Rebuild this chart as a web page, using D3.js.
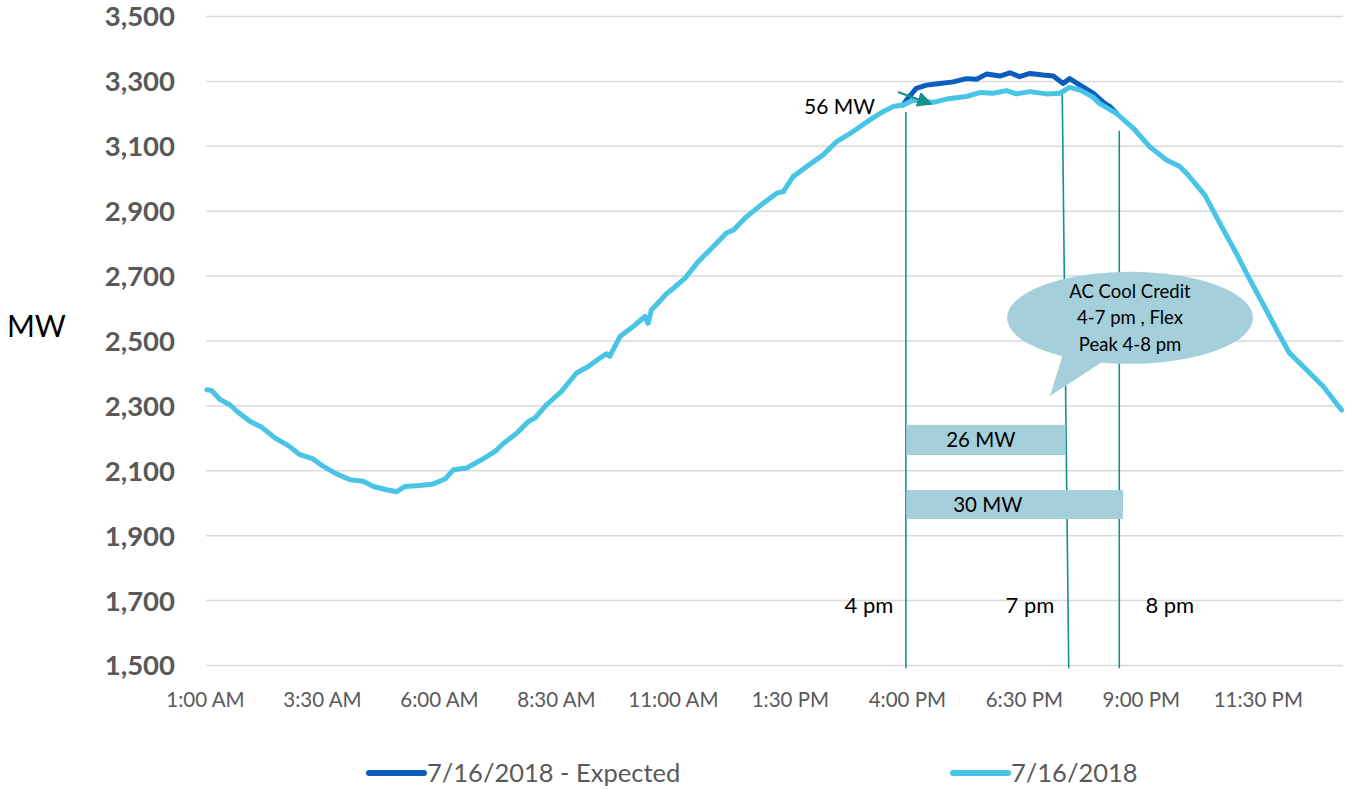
<!DOCTYPE html>
<html>
<head>
<meta charset="utf-8">
<script src="https://cdn.jsdelivr.net/npm/d3@7"></script>
<style>
  body { margin: 0; background: #fff; }
  svg { font-family: Lato, "Open Sans", sans-serif; }
</style>
</head>
<body>
<div id="chart"></div>
<script>
// hours since midnight (1 = 1:00 AM, 25 = 1:00 AM next day)
const actualHours = [1.04, 1.14, 1.32, 1.53, 1.68, 1.96, 2.21, 2.50, 2.78, 3.03, 3.31, 3.53, 3.81, 4.10, 4.38, 4.60,
  4.88, 5.10, 5.27, 5.59, 5.88, 6.13, 6.31, 6.59, 6.88, 7.20, 7.37, 7.66, 7.91, 8.05, 8.30, 8.62, 8.94, 9.19, 9.44,
  9.58, 9.65, 9.87, 10.15, 10.40, 10.47, 10.54, 10.87, 11.01, 11.26, 11.54, 11.86, 12.15, 12.29, 12.57, 12.93, 13.22,
  13.36, 13.57, 13.86, 14.21, 14.50, 14.85, 15.21, 15.49, 15.71, 15.92, 16.13, 16.35, 16.56, 16.85, 17.27, 17.56,
  17.84, 18.13, 18.34, 18.63, 18.99, 19.27, 19.48, 19.70, 19.98, 20.12, 20.48, 20.84, 21.19, 21.55, 21.83, 21.98,
  22.37, 22.69, 23.04, 23.26, 23.68, 23.95, 24.18, 24.54, 24.90, 25.29]
const actualMW = [2348, 2346, 2318, 2302, 2282, 2251, 2233, 2199, 2176, 2148, 2135, 2112, 2089, 2071, 2066, 2050,
  2040, 2034, 2050, 2053, 2058, 2073, 2102, 2107, 2130, 2158, 2182, 2214, 2250, 2261, 2302, 2343, 2400, 2420, 2446,
  2459, 2451, 2512, 2543, 2574, 2553, 2594, 2645, 2661, 2692, 2743, 2789, 2832, 2840, 2881, 2923, 2954,
  2959, 3005, 3036, 3072, 3113, 3144, 3180, 3205, 3221, 3226, 3240, 3237, 3234, 3244, 3252, 3264,
  3262, 3270, 3260, 3267, 3260, 3262, 3280, 3272, 3250, 3230, 3200, 3154, 3097, 3056, 3036, 3015,
  2948, 2861, 2769, 2707, 2594, 2520, 2461, 2410, 2358, 2286]

// expected load, only where it differs from the actual curve
const expectedHours = [15.92, 15.99, 16.20, 16.42, 16.71, 16.99, 17.27, 17.49, 17.70, 17.99, 18.20, 18.41, 18.63,
  18.91, 19.13, 19.34, 19.48, 19.70, 19.98, 20.23, 20.34, 20.48]
const expectedMW = [3226, 3241, 3277, 3287, 3292, 3297, 3307, 3305, 3321, 3315, 3325, 3313, 3323,
  3318, 3315, 3292, 3307, 3287, 3262, 3231, 3221, 3200]

const yTicks = [1500, 1700, 1900, 2100, 2300, 2500, 2700, 2900, 3100, 3300, 3500]
const xTickHours = [1, 3.5, 6, 8.5, 11, 13.5, 16, 18.5, 21, 23.5]
const xTickLabels = ["1:00 AM", "3:30 AM", "6:00 AM", "8:30 AM", "11:00 AM", "1:30 PM", "4:00 PM", "6:30 PM", "9:00 PM", "11:30 PM"]

const seriesNames = ["7/16/2018 - Expected", "7/16/2018"]
const seriesColors = ["#0B5DBE", "#48C4E4"]

// annotation lines: [hour top, MW top, hour bottom, MW bottom, label]
const markerLines = [
  [15.98, 3204, 15.98, 1490, "4 pm"],
  [19.32, 3272, 19.46, 1490, "7 pm"],
  [20.54, 3146, 20.54, 1490, "8 pm"]
]
const markerLabelHours = [15.19, 18.63, 21.62]
const reductionBars = [
  {label: "26 MW", from: 15.99, to: 19.39, top: 2240, bottom: 2147, textAt: 17.58},
  {label: "30 MW", from: 15.99, to: 20.62, top: 2039, bottom: 1950, textAt: 17.73}
]
const calloutLines = ["AC Cool Credit", "4-7 pm , Flex", "Peak 4-8 pm"]

const width = 1346, height = 789
const margin = {top: 16, right: 3, bottom: 124, left: 206}

const x = d3.scaleLinear().domain([1, 25.3]).range([205, 1342])
const y = d3.scaleLinear().domain([1500, 3500]).range([665, 16])

const svg = d3.select("#chart").append("svg")
  .attr("width", width).attr("height", height)

// y axis + gridlines
svg.append("g")
  .attr("transform", `translate(${margin.left},0)`)
  .call(d3.axisLeft(y).tickValues(yTicks).tickSize(-(width - margin.left - margin.right)).tickPadding(31)
    .tickFormat(d3.format(",")))
  .call(g => g.select(".domain").remove())
  .call(g => g.selectAll(".tick line").attr("stroke", "#D9D9D9").attr("stroke-width", 1.5))
  .call(g => g.selectAll(".tick text").attr("fill", "#595959").attr("font-size", 27.5)
    .attr("dy", "0.36em")
    .attr("font-weight", "bold").attr("font-family", "Lato, sans-serif"))

// x axis labels
svg.append("g")
  .attr("transform", `translate(0,692)`)
  .call(d3.axisBottom(x).tickValues(xTickHours).tickSize(0).tickPadding(0)
    .tickFormat((d, i) => xTickLabels[i]))
  .call(g => g.select(".domain").remove())
  .call(g => g.selectAll(".tick text").attr("fill", "#595959").attr("font-size", 20.5)
    .attr("font-family", "Lato, sans-serif"))

svg.append("text")
  .attr("x", 7).attr("y", 337)
  .attr("font-size", 30).attr("fill", "#000")
  .text("MW")

// annotation lines under the curves
const teal = "#16908C"
svg.append("g").selectAll("line")
  .data(markerLines)
  .join("line")
  .attr("x1", d => x(d[0])).attr("y1", d => y(d[1]))
  .attr("x2", d => x(d[2])).attr("y2", d => y(d[3]))
  .attr("stroke", teal).attr("stroke-width", 1.6)

svg.append("g").selectAll("text")
  .data(markerLines)
  .join("text")
  .attr("x", (d, i) => x(markerLabelHours[i]))
  .attr("y", 613)
  .attr("text-anchor", "middle")
  .attr("font-size", 22).attr("fill", "#000")
  .text(d => d[4])

// curves
const line = d3.line().x(d => x(d[0])).y(d => y(d[1])).curve(d3.curveLinear)

svg.append("path")
  .datum(d3.zip(expectedHours, expectedMW))
  .attr("fill", "none").attr("stroke", seriesColors[0]).attr("stroke-width", 5)
  .attr("stroke-linejoin", "round").attr("stroke-linecap", "round")
  .attr("d", line)

svg.append("path")
  .datum(d3.zip(actualHours, actualMW))
  .attr("fill", "none").attr("stroke", seriesColors[1]).attr("stroke-width", 5)
  .attr("stroke-linejoin", "round").attr("stroke-linecap", "round")
  .attr("d", line)

// 56 MW arrow
svg.append("defs").append("marker")
  .attr("id", "arrowhead")
  .attr("viewBox", "0 0 10 10").attr("refX", 9).attr("refY", 5)
  .attr("markerWidth", 7).attr("markerHeight", 7).attr("markerUnits", "strokeWidth")
  .attr("orient", "auto")
  .append("path").attr("d", "M0,0L10,5L0,10Z").attr("fill", teal)

svg.append("line")
  .attr("x1", x(15.81)).attr("y1", y(3266))
  .attr("x2", x(16.52)).attr("y2", y(3229))
  .attr("stroke", teal).attr("stroke-width", 2.2)
  .attr("marker-end", "url(#arrowhead)")

svg.append("text")
  .attr("x", x(15.32)).attr("y", y(3199))
  .attr("text-anchor", "end")
  .attr("font-size", 21).attr("fill", "#000")
  .text("56 MW")

// reduction bars
const bars = svg.append("g").selectAll("g")
  .data(reductionBars)
  .join("g")
bars.append("rect")
  .attr("x", d => x(d.from)).attr("y", d => y(d.top))
  .attr("width", d => x(d.to) - x(d.from)).attr("height", d => y(d.bottom) - y(d.top))
  .attr("fill", "#A6CFDC")
bars.append("text")
  .attr("x", d => x(d.textAt)).attr("y", d => (y(d.top) + y(d.bottom)) / 2)
  .attr("dy", "0.35em").attr("text-anchor", "middle")
  .attr("font-size", 20.5).attr("fill", "#000")
  .text(d => d.label)

// callout bubble
const cx = x(20.77), cy = y(2570)
const callout = svg.append("g")
callout.append("path")
  .attr("d", `M${x(19.38)},${y(2480)} L${x(19.06)},${y(2329)} L${x(20.40)},${y(2455)} Z`)
  .attr("fill", "#A6CFDC")
callout.append("ellipse")
  .attr("cx", cx).attr("cy", cy)
  .attr("rx", 123).attr("ry", 46)
  .attr("fill", "#A6CFDC")
callout.append("text")
  .attr("text-anchor", "middle")
  .attr("font-size", 18.5).attr("fill", "#000")
  .selectAll("tspan")
  .data(calloutLines)
  .join("tspan")
  .attr("x", cx)
  .attr("y", (d, i) => cy - 20 + i * 26.5)
  .text(d => d)

// legend
const legendX = [369, 953]
const legend = svg.append("g").selectAll("g")
  .data(seriesNames)
  .join("g")
  .attr("transform", (d, i) => `translate(${legendX[i]},773)`)
legend.append("line")
  .attr("x1", 0).attr("x2", 55)
  .attr("stroke", (d, i) => seriesColors[i]).attr("stroke-width", 6)
  .attr("stroke-linecap", "round")
legend.append("text")
  .attr("x", 58).attr("dy", "0.35em")
  .attr("font-size", 25.5).attr("fill", "#595959")
  .text(d => d)
</script>
</body>
</html>
